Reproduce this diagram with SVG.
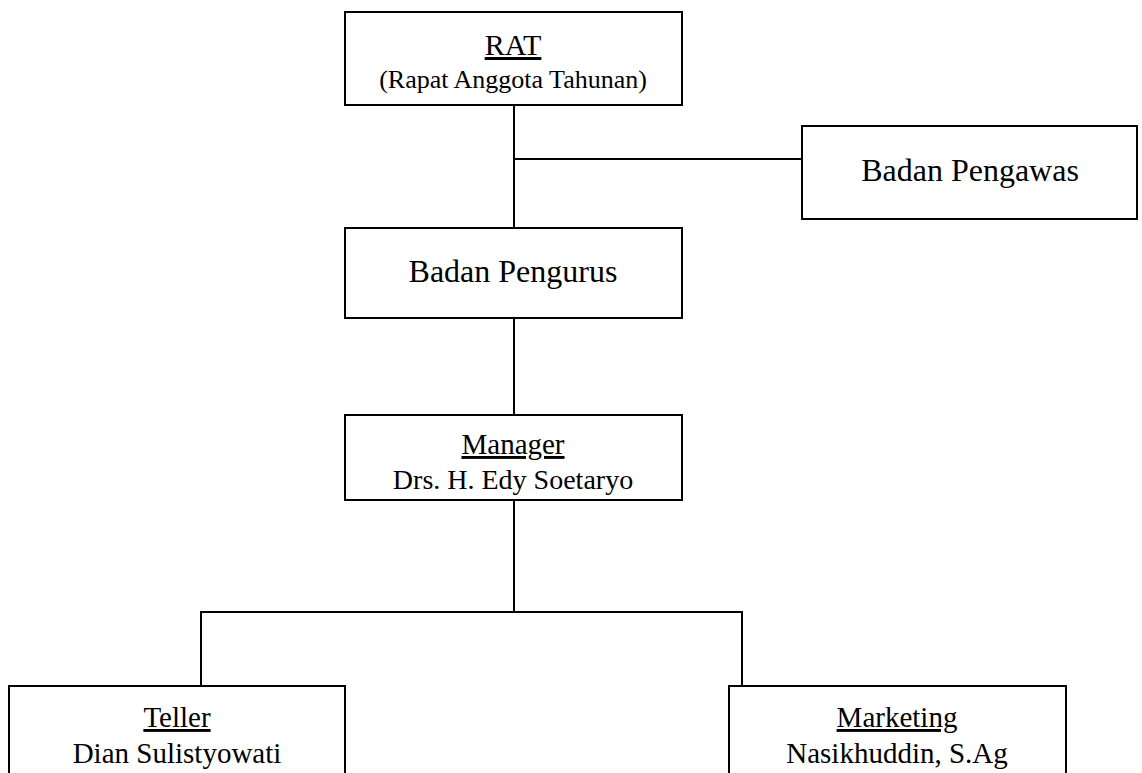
<svg xmlns="http://www.w3.org/2000/svg" width="1142" height="773" viewBox="0 0 1142 773">
<style>
.box{fill:#fff;stroke:#000;stroke-width:2}
.ln{stroke:#000;stroke-width:2;fill:none}
.t{font-family:"Liberation Serif","Times New Roman",serif;font-size:29px;fill:#000;text-anchor:middle}
.s{font-size:26px}
.b{font-size:32px}
.u{text-decoration:underline}
</style>
<rect width="1142" height="773" fill="#fff"/>
<g id="connectors">
<line class="ln" x1="514" y1="105" x2="514" y2="228"/>
<line class="ln" x1="514" y1="159" x2="802" y2="159"/>
<line class="ln" x1="514" y1="318" x2="514" y2="415"/>
<line class="ln" x1="514" y1="500" x2="514" y2="612"/>
<polyline class="ln" points="201,686 201,612 742,612 742,686"/>
</g>
<g id="rat">
<rect class="box" x="345" y="12" width="337" height="93"/>
<text class="t u" x="513" y="55" style="font-size:30px">RAT</text>
<text class="t s" x="513" y="88">(Rapat Anggota Tahunan)</text>
</g>
<g id="pengawas">
<rect class="box" x="802" y="126" width="335" height="93"/>
<text class="t b" x="970" y="181">Badan Pengawas</text>
</g>
<g id="pengurus">
<rect class="box" x="345" y="228" width="337" height="90"/>
<text class="t b" x="513" y="282">Badan Pengurus</text>
</g>
<g id="manager">
<rect class="box" x="345" y="415" width="337" height="85"/>
<text class="t u" x="513" y="454">Manager</text>
<text class="t" x="513" y="489" style="font-size:28px">Drs. H. Edy Soetaryo</text>
</g>
<g id="teller">
<rect class="box" x="9" y="686" width="336" height="100"/>
<text class="t u" x="177" y="727">Teller</text>
<text class="t" x="177" y="763">Dian Sulistyowati</text>
</g>
<g id="marketing">
<rect class="box" x="729" y="686" width="337" height="100"/>
<text class="t u" x="897" y="727">Marketing</text>
<text class="t" x="897" y="763">Nasikhuddin, S.Ag</text>
</g>
</svg>
